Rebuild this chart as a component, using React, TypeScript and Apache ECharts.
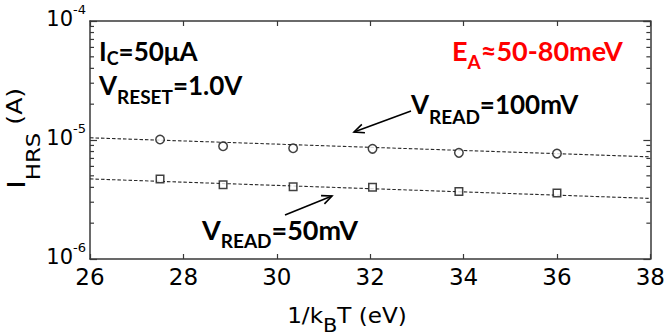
import React, { useEffect, useRef } from "react";
import * as echarts from "echarts";

// Axis ranges
const X_MIN = 26;
const X_MAX = 38;
const X_STEP = 2;
const Y_MIN = 1e-6;
const Y_MAX = 1e-4;

// Measured HRS current vs 1/kBT (eV^-1)
const invKT = [27.5, 28.85, 30.35, 32.05, 33.9, 36.0];
const iHrs100mV = [1.01e-5, 8.87e-6, 8.53e-6, 8.43e-6, 7.8e-6, 7.69e-6];
const iHrs50mV = [4.71e-6, 4.21e-6, 4.05e-6, 4.0e-6, 3.7e-6, 3.58e-6];

// Arrhenius fit lines (end points across the axis range)
const fitX = [26, 38];
const fit100mV = [1.044e-5, 7.22e-6];
const fit50mV = [4.71e-6, 3.23e-6];

// Minor log ticks: 2..9 within each decade
const minorMantissas = [2, 3, 4, 5, 6, 7, 8, 9];
const minorDecades = [1e-6, 1e-5];

const AXIS_COLOR = "#383838";
const NUM_FONT = "DejaVu Sans";
const NOTE_FONT = "Lato";

function arrow(x1: number, y1: number, x2: number, y2: number) {
  const dx = x2 - x1;
  const dy = y2 - y1;
  const len = Math.hypot(dx, dy);
  const ux = dx / len;
  const uy = dy / len;
  const hl = 10;
  const hw = 4.5;
  const bx = x2 - ux * hl;
  const by = y2 - uy * hl;
  return [
    {
      type: "line",
      shape: { x1, y1, x2, y2 },
      style: { stroke: "#000", lineWidth: 1.6 },
    },
    {
      type: "polyline",
      shape: {
        points: [
          [bx - uy * hw, by + ux * hw],
          [x2, y2],
          [bx + uy * hw, by - ux * hw],
        ],
      },
      style: { stroke: "#000", lineWidth: 1.6, fill: null },
    },
  ];
}

function note(
  x: number,
  y: number,
  head: string,
  sub: string,
  tail: string,
  color: string,
  size: number,
  subSize: number,
  subPad: number
) {
  return {
    type: "text",
    x,
    y,
    style: {
      text: `{m|${head}}{s|${sub}}{m|${tail}}`,
      align: "left",
      verticalAlign: "top",
      rich: {
        m: {
          fontFamily: NOTE_FONT,
          fontWeight: "bold",
          fontSize: size,
          lineHeight: size,
          fill: color,
          color,
          verticalAlign: "top",
        },
        s: {
          fontFamily: NOTE_FONT,
          fontWeight: "bold",
          fontSize: subSize,
          lineHeight: subSize,
          fill: color,
          color,
          verticalAlign: "top",
          padding: [subPad, 0, 0, 0],
        },
      },
    },
  };
}

export default function App() {
  const ref = useRef<HTMLDivElement>(null);

  useEffect(() => {
    if (!ref.current) return;
    const chart = echarts.init(ref.current, null, { renderer: "svg" });

    const minorTicks: number[][] = [];
    minorDecades.forEach((d) =>
      minorMantissas.forEach((m) => minorTicks.push([X_MIN, m * d]))
    );

    const axisCommon = {
      axisLine: { show: true, lineStyle: { color: AXIS_COLOR, width: 1.5 } },
      splitLine: { show: false },
    };

    chart.setOption({
      animation: false,
      backgroundColor: "#fff",
      grid: { left: 90, top: 21, right: 12, bottom: 76, containLabel: false },
      xAxis: [
        {
          type: "value",
          min: X_MIN,
          max: X_MAX,
          interval: X_STEP,
          position: "bottom",
          ...axisCommon,
          axisTick: {
            inside: true,
            length: 5,
            lineStyle: { color: AXIS_COLOR, width: 1.2 },
          },
          axisLabel: {
            margin: 6,
            fontFamily: NUM_FONT,
            fontSize: 23,
            lineHeight: 23,
            color: "#000",
          },
        },
        {
          type: "value",
          min: X_MIN,
          max: X_MAX,
          interval: X_STEP,
          position: "top",
          ...axisCommon,
          axisTick: {
            inside: true,
            length: 5,
            lineStyle: { color: AXIS_COLOR, width: 1.2 },
          },
          axisLabel: { show: false },
        },
      ],
      yAxis: [
        {
          type: "log",
          logBase: 10,
          min: Y_MIN,
          max: Y_MAX,
          position: "left",
          ...axisCommon,
          axisTick: {
            inside: true,
            length: 7,
            lineStyle: { color: AXIS_COLOR, width: 1.2 },
          },
          axisLabel: {
            margin: 4,
            formatter: (v: number) => `{b|10}{e|${Math.round(Math.log10(v))}}`,
            rich: {
              b: {
                fontFamily: NUM_FONT,
                fontSize: 21,
                lineHeight: 37,
                color: "#000",
                verticalAlign: "top",
                padding: [6, 0, 0, 0],
              },
              e: {
                fontFamily: NUM_FONT,
                fontSize: 13,
                lineHeight: 13,
                color: "#000",
                verticalAlign: "top",
                padding: [0.5, 0, 0, 0],
              },
            },
          },
        },
        {
          type: "log",
          logBase: 10,
          min: Y_MIN,
          max: Y_MAX,
          position: "right",
          ...axisCommon,
          axisTick: {
            inside: true,
            length: 7,
            lineStyle: { color: AXIS_COLOR, width: 1.2 },
          },
          axisLabel: { show: false },
        },
      ],
      series: [
        {
          type: "custom",
          name: "minor ticks",
          clip: false,
          silent: true,
          data: minorTicks,
          renderItem: (params: any, api: any) => {
            const v = api.value(1);
            const l = api.coord([X_MIN, v]);
            const r = api.coord([X_MAX, v]);
            const st = { stroke: AXIS_COLOR, lineWidth: 1.2 };
            return {
              type: "group",
              children: [
                { type: "line", shape: { x1: l[0], y1: l[1], x2: l[0] + 4, y2: l[1] }, style: st },
                { type: "line", shape: { x1: r[0], y1: r[1], x2: r[0] - 4, y2: r[1] }, style: st },
              ],
            };
          },
        },
        {
          type: "line",
          name: "fit 100mV",
          data: fitX.map((x, i) => [x, fit100mV[i]]),
          symbol: "none",
          z: 2,
          lineStyle: { color: "#2a2a2a", width: 1.1, type: [3.5, 2] },
        },
        {
          type: "line",
          name: "fit 50mV",
          data: fitX.map((x, i) => [x, fit50mV[i]]),
          symbol: "none",
          z: 2,
          lineStyle: { color: "#2a2a2a", width: 1.1, type: [3.5, 2] },
        },
        {
          type: "scatter",
          name: "VREAD=100mV",
          data: invKT.map((x, i) => [x, iHrs100mV[i]]),
          symbol: "circle",
          symbolSize: 8.5,
          z: 3,
          itemStyle: { color: "#fff", borderColor: "#111", borderWidth: 1.5 },
        },
        {
          type: "scatter",
          name: "VREAD=50mV",
          data: invKT.map((x, i) => [x, iHrs50mV[i]]),
          symbol: "rect",
          symbolSize: 7.5,
          z: 3,
          itemStyle: { color: "#fff", borderColor: "#111", borderWidth: 1.5 },
        },
      ],
      graphic: [
        // y-axis title, rotated
        {
          type: "text",
          x: 3.5,
          y: 189,
          rotation: Math.PI / 2,
          scaleX: 1.2,
          style: {
            text: "{i|I}{h|HRS}{a| (A)}",
            align: "left",
            verticalAlign: "top",
            rich: {
              i: { fontFamily: NUM_FONT, fontSize: 25, lineHeight: 25, fill: "#000", verticalAlign: "top" },
              h: { fontFamily: NUM_FONT, fontSize: 19, lineHeight: 19, fill: "#000", verticalAlign: "top", padding: [21, 0, 0, 0] },
              a: { fontFamily: NUM_FONT, fontSize: 21, lineHeight: 21, fill: "#000", verticalAlign: "top", padding: [0, 0, 0, 0] },
            },
          },
        },
        // x-axis title
        {
          type: "text",
          x: 347,
          y: 305,
          scaleX: 1.1,
          style: {
            text: "{m|1/k}{s|B}{m|T (eV)}",
            align: "center",
            verticalAlign: "top",
            rich: {
              m: { fontFamily: NUM_FONT, fontSize: 21, lineHeight: 21, fill: "#000", verticalAlign: "top" },
              s: { fontFamily: NUM_FONT, fontSize: 19, lineHeight: 19, fill: "#000", verticalAlign: "top", padding: [10.5, 0, 0, 0] },
            },
          },
        },
        note(99, 38, "I", "C", "=50μA", "#000", 26, 18, 11),
        note(99, 72, "V", "RESET", "=1.0V", "#000", 26, 19, 15),
        note(452, 37, "E", "A", "≈50-80meV", "#ff0000", 27, 19, 15),
        note(411, 91, "V", "READ", "=100mV", "#000", 26, 19, 16),
        note(202, 216, "V", "READ", "=50mV", "#000", 27, 19, 15),
        ...arrow(411, 111, 354, 132),
        ...arrow(285, 215, 332, 196),
      ],
    });

    return () => chart.dispose();
  }, []);

  return (
    <div
      ref={ref}
      style={{ position: "fixed", left: 0, top: 0, width: 668, height: 335, background: "#fff" }}
    />
  );
}
